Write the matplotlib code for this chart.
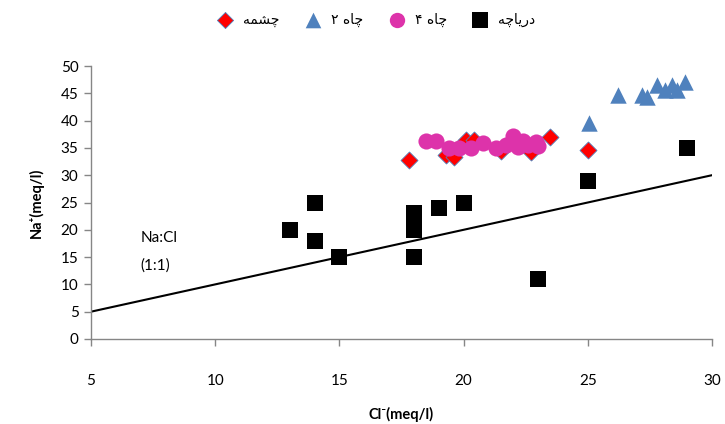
import matplotlib
matplotlib.use("Agg")
import matplotlib.pyplot as plt

# data
# چشمه (spring) - red diamonds
chashme_x = [17.8, 19.3, 19.6, 20.1, 20.4, 21.5, 22.7, 23.5, 25.0]
chashme_y = [32.8, 33.7, 33.3, 36.4, 36.4, 34.4, 34.2, 37.0, 34.6]
# چاه ۲ - blue triangles
chah2_x = [25.05, 26.2, 27.2, 27.4, 27.8, 28.1, 28.4, 28.6, 28.9]
chah2_y = [39.6, 44.7, 44.7, 44.3, 46.5, 45.6, 46.5, 45.6, 47.1]
# چاه ۴ - pink circles
chah4_x = [18.5, 18.9, 19.4, 19.8, 20.3, 20.8, 21.3, 21.7, 22.0, 22.2, 22.4, 22.6, 22.9, 23.0]
chah4_y = [36.2, 36.2, 35.0, 34.9, 35.0, 35.9, 35.0, 35.5, 37.2, 35.2, 36.3, 35.5, 36.0, 35.3]
# دریاچه - black squares
lake_x = [13, 14, 14, 15, 18, 18, 18, 18, 19, 20, 23, 25, 29]
lake_y = [20, 25, 18, 15, 23, 21.5, 20, 15, 24, 25, 11, 29, 35]
# 1:1 line
line_x = [5, 30]
line_y = [5, 30]

labels = ["چشمه", "چاه ۲", "چاه ۴", "دریاچه"]

# tiny reshaper so the persian labels come out joined and right-to-left
DUAL = {
    "چ": ("\uFB7A", "\uFB7B", "\uFB7C", "\uFB7D"),
    "ش": ("\uFEB5", "\uFEB6", "\uFEB7", "\uFEB8"),
    "م": ("\uFEE1", "\uFEE2", "\uFEE3", "\uFEE4"),
    "ه": ("\uFEE9", "\uFEEA", "\uFEEB", "\uFEEC"),
    "ی": ("\uFBFC", "\uFBFD", "\uFBFE", "\uFBFF"),
}
RIGHT = {
    "ا": ("\uFE8D", "\uFE8E"),
    "د": ("\uFEA9", "\uFEAA"),
    "ر": ("\uFEAD", "\uFEAE"),
}


def shape(s):
    out = []
    for i, c in enumerate(s):
        prev = s[i - 1] if i > 0 else ""
        nxt = s[i + 1] if i < len(s) - 1 else ""
        before = prev in DUAL
        after = c in DUAL and (nxt in DUAL or nxt in RIGHT)
        if c in DUAL:
            iso, fin, ini, med = DUAL[c]
            if before and after:
                out.append(med)
            elif before:
                out.append(fin)
            elif after:
                out.append(ini)
            else:
                out.append(iso)
        elif c in RIGHT:
            out.append(RIGHT[c][1] if before else RIGHT[c][0])
        else:
            out.append(c)
    return "".join(reversed(out))


plt.rcParams['font.family'] = ['Lato', 'DejaVu Sans']

fig = plt.figure(figsize=(7.25, 4.24), dpi=100)
ax = fig.add_axes([0.1255, 0.2005, 0.8565, 0.6438])

ax.plot(line_x, line_y, color='black', lw=1.5, zorder=1)

ax.scatter(chashme_x, chashme_y, marker='D', s=75, color='#FF0000',
           edgecolors='#4F81BD', linewidths=0.6, zorder=3, label=shape(labels[0]))
ax.scatter(chah2_x, chah2_y, marker='^', s=140, color='#4F81BD',
           linewidths=0, zorder=3, label=shape(labels[1]))
ax.scatter(chah4_x, chah4_y, marker='o', s=135, color='#DD33AA',
           linewidths=0, zorder=4, label=shape(labels[2]))
ax.scatter(lake_x, lake_y, marker='s', s=130, color='black',
           linewidths=0, zorder=2, label=shape(labels[3]))

ax.set_xlim(5, 30)
ax.set_ylim(0, 50)
ax.set_xticks(range(5, 31, 5))
ax.set_yticks(range(0, 51, 5))

for side in ['top', 'right']:
    ax.spines[side].set_visible(False)
for side in ['left', 'bottom']:
    ax.spines[side].set_color('#868686')
    ax.spines[side].set_linewidth(1)
ax.tick_params(axis='both', colors='#868686', length=5, width=1,
               labelsize=11, labelcolor='black')
ax.tick_params(axis='x', pad=20)
ax.tick_params(axis='y', pad=4)

ax.set_xlabel('Cl⁻(meq/l)', fontsize=10.5, fontweight='bold', labelpad=14)
ax.set_ylabel('Na⁺(meq/l)', fontsize=10.5, fontweight='bold', labelpad=12)

ax.text(7, 18.5, 'Na:Cl', fontsize=11, ha='left', va='center')
ax.text(7, 13.5, '(1:1)', fontsize=11, ha='left', va='center')

leg = fig.legend(loc='upper center', bbox_to_anchor=(0.515, 1.0), ncol=4,
                 frameon=False, handletextpad=0.3,
                 columnspacing=1.4, markerscale=0.95,
                 prop={'family': ['DejaVu Sans'], 'size': 10})

fig.savefig('out.png', dpi=100)
